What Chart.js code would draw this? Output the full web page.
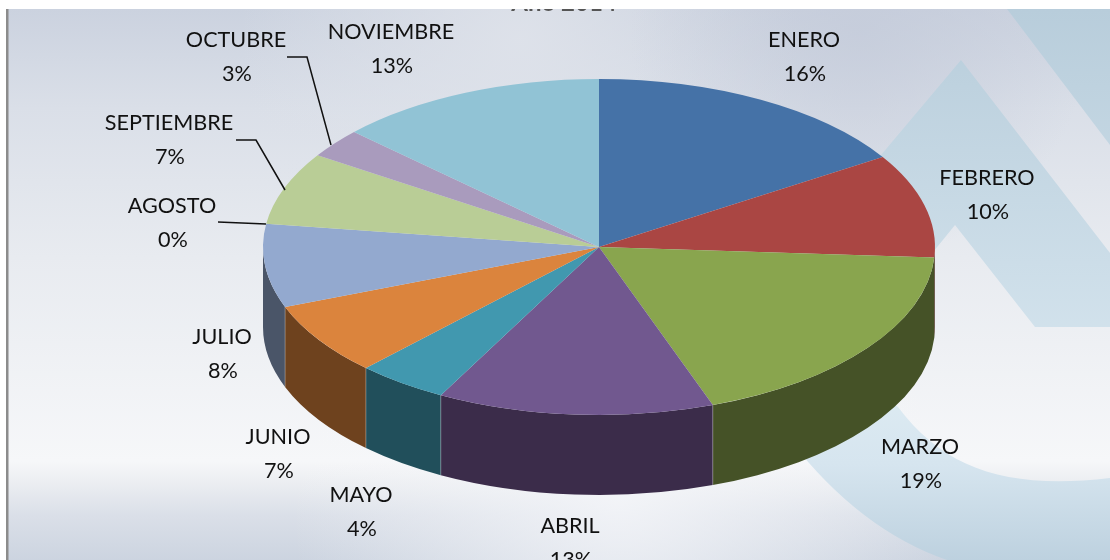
<!DOCTYPE html>
<html><head><meta charset="utf-8">
<style>html,body{margin:0;padding:0;background:#fff;overflow:hidden}#wrap{width:1110px;height:560px}canvas{display:block}</style>
<script src="https://cdn.jsdelivr.net/npm/chart.js@4"></script>
</head><body><div id="wrap"><canvas id="c" width="1110" height="560"></canvas></div>
<script>
const titleText = 'Año 2014';
const months = ['ENERO','FEBRERO','MARZO','ABRIL','MAYO','JUNIO','JULIO','AGOSTO','SEPTIEMBRE','OCTUBRE','NOVIEMBRE'];
const percents = [16,10,18.5,13.3,4.4,7,8,0,7,2.8,13];
const topColors = ['#4572a7','#aa4643','#89a54e','#71588f','#4198af','#db843d','#93a9cf','#d19392','#b9cd96','#a99bbd','#91c3d5'];
const wallColors = ['#223955','#552321','#455227','#3b2c4a','#214f5b','#6e421e','#4a5568','#694a49','#5d674b','#554e5f','#49626b'];
const labelOffsets = [[205,-190],[388,-52],[321,217],[-29,296],[-238,265],[-321,207],[-377,107],[-427,-24],[-430,-107],[-363,-190],[-208,-198]];
const leaders = {7:[[218,222],[266,224]],8:[[236,140],[256,140],[285,190]],9:[[287,57],[307,57],[331,145]]};
const pie = {cx:599, cy:247, rx:336, ry:168, depth:80};

function glow(c,x,y,r,col0,col1){
  const g=c.createRadialGradient(x,y,0,x,y,r);
  g.addColorStop(0,col0); g.addColorStop(1,col1);
  c.fillStyle=g; c.fillRect(0,0,1110,560);
}
const stage = {
  id:'stage',
  beforeDraw(chart){
    const c = chart.ctx;
    c.save();
    c.fillStyle='#fff'; c.fillRect(0,0,1110,560);
    c.beginPath(); c.rect(6,9,1104,551); c.clip();
    const g=c.createLinearGradient(0,9,0,560);
    [[0,'#cbd2df'],[.18,'#dadfe8'],[.45,'#e8ebf0'],[.82,'#f6f7f9'],[.85,'#eef0f3'],[.92,'#dadfe8'],[1,'#ccd4e0']].forEach(s=>g.addColorStop(s[0],s[1]));
    c.fillStyle=g; c.fillRect(0,0,1110,560);
    glow(c,520,40,280,'rgba(222,226,234,.95)','rgba(222,226,234,0)');
    glow(c,860,30,230,'rgba(196,203,218,.75)','rgba(196,203,218,0)');
    glow(c,620,500,330,'rgba(246,247,250,.8)','rgba(246,247,250,0)');
    // watermark shapes
    const b=c.createLinearGradient(0,9,0,340);
    b.addColorStop(0,'#b8cddb'); b.addColorStop(1,'#d2e2ec');
    c.fillStyle=b;
    c.beginPath(); c.moveTo(1007,9); c.lineTo(1110,9); c.lineTo(1110,145); c.closePath(); c.fill();
    c.beginPath(); c.moveTo(961,60); c.lineTo(1110,253); c.lineTo(1110,327); c.lineTo(1035,327);
    c.lineTo(955,225); c.lineTo(925,262); c.lineTo(860,180); c.closePath(); c.fill();
    const b2=c.createLinearGradient(0,400,0,560);
    b2.addColorStop(0,'#dceaf2'); b2.addColorStop(.4,'#d6e5ef'); b2.addColorStop(1,'#bdd1df');
    c.fillStyle=b2;
    c.beginPath(); c.moveTo(790,440); c.quadraticCurveTo(860,530,947,560); c.lineTo(1110,560); c.lineTo(1110,478);
    c.bezierCurveTo(1010,490,945,470,898,407); c.lineTo(860,380); c.closePath(); c.fill();
    c.fillStyle='#8c8c8c'; c.fillRect(6,9,2.5,551);
    c.restore();
    // clipped chart title
    c.save(); c.beginPath(); c.rect(0,9,1110,20); c.clip();
    c.font='bold 24px Lato'; c.fillStyle='#555'; c.textAlign='center'; c.textBaseline='alphabetic';
    c.fillText(titleText,564,11); c.restore();
  },
  beforeDatasetDraw(chart,args){
    const c=chart.ctx, arcs=chart.getDatasetMeta(args.index).data;
    arcs.forEach((a,i)=>{
      const s=Math.max(a.startAngle,0), e=Math.min(a.endAngle,Math.PI);
      if(e<=s) return;
      c.beginPath();
      c.ellipse(pie.cx,pie.cy,pie.rx,pie.ry,0,s,e);
      c.ellipse(pie.cx,pie.cy+pie.depth,pie.rx,pie.ry,0,e,s,true);
      c.closePath(); c.fillStyle=wallColors[i]; c.fill();
    });
    c.strokeStyle='rgba(255,255,255,.28)'; c.lineWidth=1;
    arcs.forEach(a=>{
      if(a.startAngle<=0.08||a.startAngle>=Math.PI) return;
      const x=pie.cx+pie.rx*Math.cos(a.startAngle), y=pie.cy+pie.ry*Math.sin(a.startAngle);
      c.beginPath(); c.moveTo(x,y); c.lineTo(x,y+pie.depth); c.stroke();
    });
    const a0=arcs[0];
    c.save();
    c.translate(pie.cx,pie.cy);
    c.scale(pie.rx/a0.outerRadius,pie.ry/a0.outerRadius);
    c.translate(-a0.x,-a0.y);
  },
  afterDatasetDraw(chart){ chart.ctx.restore(); },
  afterDatasetsDraw(chart){
    const c=chart.ctx;
    c.save();
    c.strokeStyle='#111'; c.lineWidth=1.5; c.lineJoin='miter';
    Object.values(leaders).forEach(p=>{
      c.beginPath(); p.forEach((q,i)=>i?c.lineTo(q[0],q[1]):c.moveTo(q[0],q[1])); c.stroke();
    });
    c.font='21.6px Lato'; c.fillStyle='#111'; c.textAlign='center'; c.textBaseline='middle';
    months.forEach((m,i)=>{
      const o=labelOffsets[i], x=pie.cx+o[0], y=pie.cy+o[1];
      c.fillText(m,x,y-17);
      c.fillText(Math.round(percents[i])+'%',x+1,y+17);
    });
    c.restore();
  }
};

new Chart(document.getElementById('c'),{
  type:'pie',
  data:{labels:months,datasets:[{data:percents,backgroundColor:topColors,borderWidth:0,clip:false}]},
  options:{
    responsive:false,animation:false,
    layout:{padding:0},
    plugins:{legend:{display:false},tooltip:{enabled:false},title:{display:false}}
  },
  plugins:[stage]
});
</script></body></html>
